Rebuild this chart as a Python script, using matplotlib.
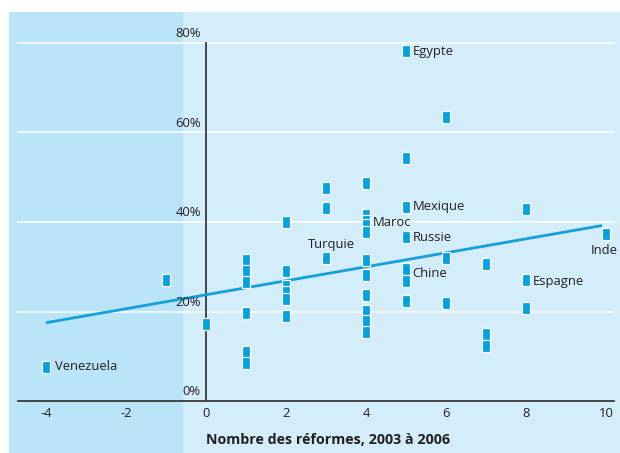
import numpy as np
import matplotlib
matplotlib.use("Agg")
import matplotlib.pyplot as plt

# data (x = number of reforms, y = percent)
reforms = [-4, -1, 0,
           1, 1, 1, 1, 1, 1,
           2, 2, 2, 2, 2, 2,
           3, 3, 3,
           4, 4, 4, 4, 4, 4, 4, 4, 4, 4, 4,
           5, 5, 5, 5, 5, 5, 5,
           6, 6, 6,
           7, 7, 7,
           8, 8, 8,
           10]
growth = [7.7, 27.0, 17.3,
          31.5, 29.1, 26.5, 19.6, 10.9, 8.6,
          39.9, 29.1, 25.7, 24.4, 22.7, 19.0,
          47.5, 43.1, 31.9,
          48.8, 41.5, 40.3, 39.3, 37.7, 31.4, 28.2, 23.8, 20.2, 17.9, 15.4,
          78.1, 54.4, 43.4, 36.6, 29.4, 26.9, 22.3,
          63.5, 31.9, 21.8,
          30.6, 15.0, 12.4,
          42.9, 27.0, 20.7,
          37.3]

trend_x = [-4, 9.9]
trend_y = [17.5, 39.2]

# country labels: name, x, y, alignment
labels = [("Egypte", 5.18, 78.1, "left"),
          ("Mexique", 5.18, 43.5, "left"),
          ("Maroc", 4.16, 39.8, "left"),
          ("Russie", 5.18, 36.6, "left"),
          ("Chine", 5.16, 28.6, "left"),
          ("Turquie", 3.13, 34.9, "center"),
          ("Espagne", 8.18, 26.8, "left"),
          ("Inde", 9.96, 33.7, "center"),
          ("Venezuela", -3.78, 7.8, "left")]

xticks = [-4, -2, 0, 2, 4, 6, 8, 10]
yticks = [0, 20, 40, 60, 80]

plt.rcParams['font.family'] = ['Open Sans', 'DejaVu Sans']
txt = '#231f20'

fig = plt.figure(figsize=(6.2, 4.53), dpi=100)
ax = fig.add_axes([9/620, 0, 611/620, 441/453])
ax.set_xlim(-4.925, 10.35)
ax.set_ylim(-11.6, 86.9)
ax.axis('off')

ax.axvspan(-4.925, 10.35, color='#d4edfa', zorder=0)
ax.axvspan(-4.925, -0.6, color='#bae5f9', zorder=0)

for t in yticks[1:]:
    ax.plot([-4.7, 10.2], [t, t], color='white', lw=1.1, zorder=1)
for t in yticks:
    ax.text(-0.13, t + 0.6, f"{t}%", ha='right', va='bottom', fontsize=9.4, color=txt, zorder=5)

ax.plot([-4.7, 10.2], [0, 0], color='#3a3a3a', lw=1.3, zorder=2)
ax.plot([0, 0], [0, 80], color='#3a3a3a', lw=1.3, zorder=2)
for t in xticks:
    ax.text(t, -2.7, str(t), ha='center', va='center', fontsize=9.4, color=txt)

ax.plot(trend_x, trend_y, color='#13a0dd', lw=2, solid_capstyle='butt', zorder=3)

rect = [(-0.35, -0.5), (0.35, -0.5), (0.35, 0.5), (-0.35, 0.5), (-0.35, -0.5)]
ax.scatter(reforms, growth, marker=rect, s=66, color='#00a2e1', edgecolors='white',
           linewidths=0.9, zorder=4)

for name, x, y, ha in labels:
    ax.text(x, y, name, ha=ha, va='center', fontsize=9.4, color=txt, zorder=5)

ax.text(3.06, -8.7, "Nombre des réformes, 2003 à 2006", ha='center', va='center',
        fontsize=10.3, fontweight='bold', color=txt)

fig.savefig('out.png', dpi=100)
